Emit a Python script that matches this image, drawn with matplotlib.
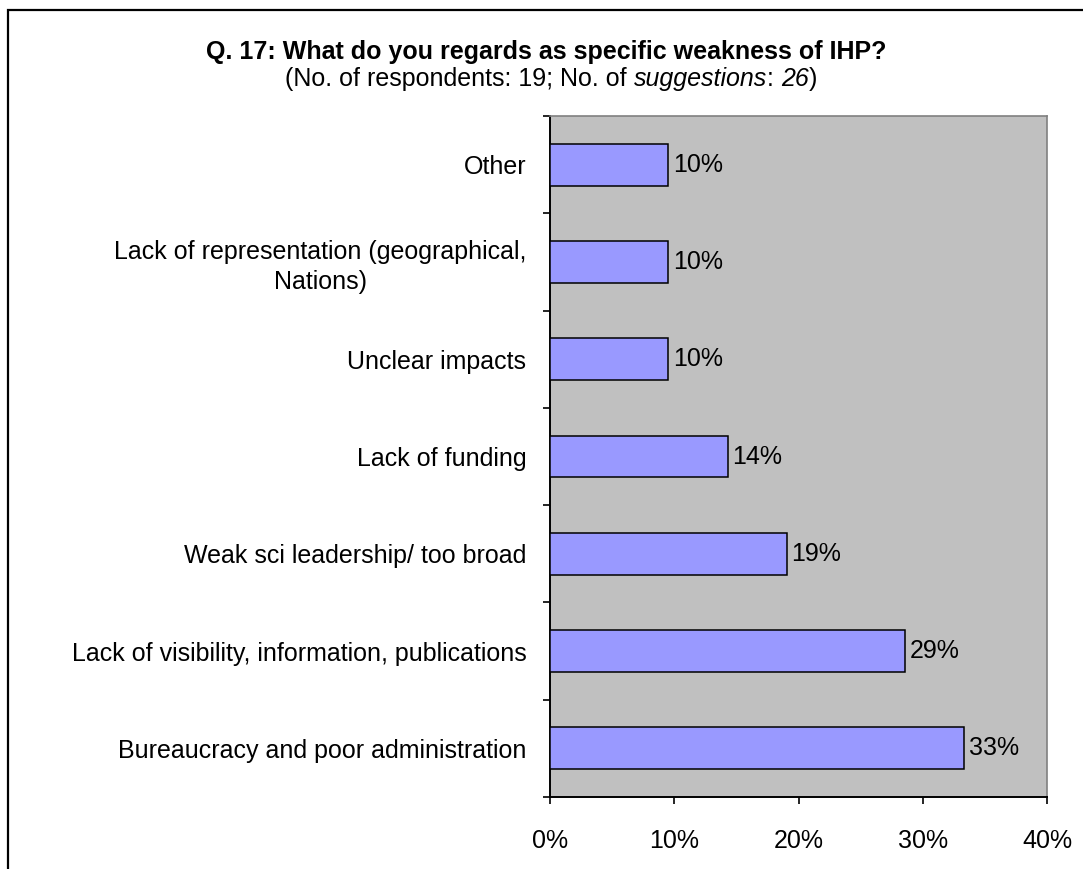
import matplotlib
matplotlib.use('Agg')
import matplotlib.pyplot as plt
from matplotlib.patches import Rectangle
from matplotlib.ticker import FixedLocator, FuncFormatter
import numpy as np

plt.rcParams['font.family'] = ['Liberation Sans', 'DejaVu Sans']

# answers, bottom to top; shares are counts out of 21 suggestions
categories = [
    'Bureaucracy and poor administration',
    'Lack of visibility, information, publications',
    'Weak sci leadership/ too broad',
    'Lack of funding',
    'Unclear impacts',
    'Lack of representation (geographical,\nNations)',
    'Other',
]
counts = [7, 6, 4, 3, 2, 2, 2]
total = 21
shares = [c / total for c in counts]
x_ticks = [0.0, 0.1, 0.2, 0.3, 0.4]

FS = 18

fig = plt.figure(figsize=(10.83, 8.69), dpi=100)
W, H = 1083, 869

# outer chart frame
fig.patches.append(Rectangle((8 / W, -0.1), 1.2, (H - 10) / H + 0.1,
                             transform=fig.transFigure, fill=False,
                             edgecolor='black', linewidth=1.6))

ax = fig.add_axes([550 / W, (H - 797) / H, (1047 - 550) / W, (797 - 116) / H])
ax.set_facecolor('#C0C0C0')

y = np.arange(len(categories))
ax.barh(y, shares, height=0.43, color='#9999FF', edgecolor='black',
        linewidth=1.1, zorder=3)

for yi, v in zip(y, shares):
    ax.annotate(f'{v * 100:.0f}%', (v, yi), xytext=(3.5, 0),
                textcoords='offset points', va='center', ha='left',
                fontsize=FS, zorder=4)

ax.set_xlim(0, 0.4)
ax.set_ylim(-0.5, len(categories) - 0.5)
ax.set_xticks(x_ticks)
ax.xaxis.set_major_formatter(FuncFormatter(lambda v, p: f'{v * 100:.0f}%'))
ax.tick_params(axis='x', direction='out', length=5, width=1.2,
               pad=18, labelsize=FS)

ax.set_yticks(y)
labels = ax.set_yticklabels(categories, fontsize=FS)
for lab in labels:
    lab.set_multialignment('center')
    lab.set_linespacing(1.3)
ax.tick_params(axis='y', which='major', length=0, pad=17)
ax.yaxis.set_minor_locator(FixedLocator(np.arange(-0.5, len(categories), 1)))
ax.tick_params(axis='y', which='minor', direction='out', length=5, width=1.2)

for side in ('left', 'bottom'):
    ax.spines[side].set_color('black')
    ax.spines[side].set_linewidth(1.4)
for side in ('top', 'right'):
    ax.spines[side].set_color('#808080')
    ax.spines[side].set_linewidth(1.2)

# title and subtitle (subtitle has italic pieces)
fig.text(546 / W, 1 - 52 / H, 'Q. 17: What do you regards as specific weakness of IHP?',
         ha='center', va='center', fontsize=FS, fontweight='bold')

pieces = [('(No. of respondents: 19; No. of ', 'normal'),
          ('suggestions', 'italic'),
          (': ', 'normal'),
          ('26', 'italic'),
          (')', 'normal')]
fig.canvas.draw()
renderer = fig.canvas.get_renderer()
texts = []
for s, style in pieces:
    t = fig.text(0, 1 - 79 / H, s, ha='left', va='center', fontsize=FS,
                 fontstyle=style)
    texts.append(t)
widths = [t.get_window_extent(renderer).width for t in texts]
x0 = 551 - sum(widths) / 2
for t, w in zip(texts, widths):
    t.set_x(x0 / W)
    x0 += w

fig.savefig('out.png', dpi=100)
